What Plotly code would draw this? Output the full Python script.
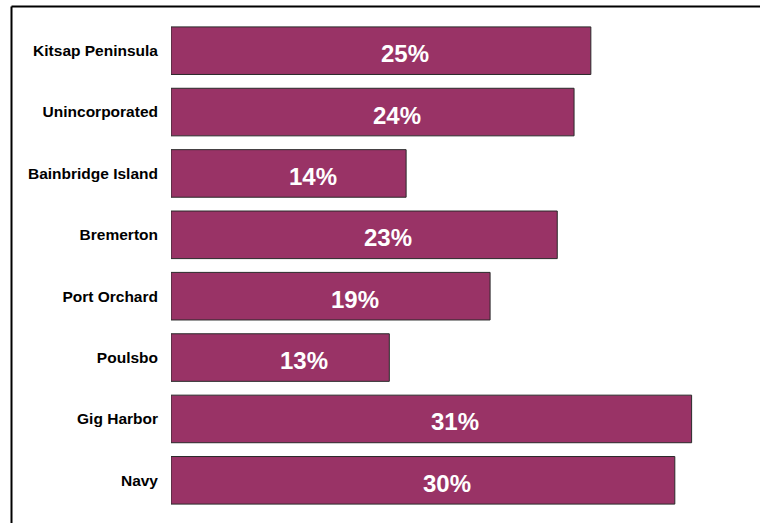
import plotly.graph_objects as go

categories = ["Kitsap Peninsula", "Unincorporated", "Bainbridge Island", "Bremerton",
              "Port Orchard", "Poulsbo", "Gig Harbor", "Navy"]
values = [25, 24, 14, 23, 19, 13, 31, 30]
value_labels = [f"{v}%" for v in values]

BAR_COLOR = "#993366"
FONT = "Liberation Sans, Arial, sans-serif"

W, H = 760, 523
ML, MR, MT, MB = 171, 18, 20, 12
XMAX = 34

fig = go.Figure()
fig.add_trace(go.Bar(
    y=categories, x=values, orientation="h",
    marker=dict(color=BAR_COLOR, line=dict(color="#2a2a2a", width=1)),
    hoverinfo="skip",
))

for c, v, t in zip(categories, values, value_labels):
    fig.add_annotation(x=v / 2, y=c, xref="x", yref="y", text=f"<b>{t}</b>",
                       showarrow=False, xshift=24, yshift=-3,
                       font=dict(family=FONT, size=24, color="white"))

plot_w = W - ML - MR
plot_h = H - MT - MB
left_px, top_px = 11.5, 6.5
x0p = (left_px - ML) / plot_w
y1p = (H - MB - top_px) / plot_h
fig.add_shape(type="line", xref="paper", yref="paper", x0=x0p, x1=x0p, y0=-0.2, y1=y1p,
              line=dict(color="black", width=2))
fig.add_shape(type="line", xref="paper", yref="paper", x0=x0p, x1=1.5, y0=y1p, y1=y1p,
              line=dict(color="black", width=2))

fig.update_layout(
    width=W, height=H,
    margin=dict(l=ML, r=MR, t=MT, b=MB, pad=0),
    paper_bgcolor="white", plot_bgcolor="white",
    bargap=0.225,
    showlegend=False,
    font=dict(family=FONT, color="black"),
    xaxis=dict(range=[0, XMAX], visible=False, fixedrange=True),
    yaxis=dict(autorange="reversed", showgrid=False, showline=False, zeroline=False,
               ticks="", ticklabelstandoff=12,
               tickfont=dict(family=FONT, size=15.5, color="black", weight="bold")),
)

fig.write_html("out.html")
